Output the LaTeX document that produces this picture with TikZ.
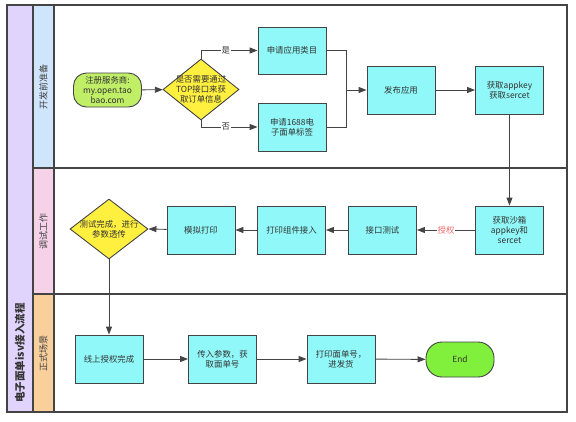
\documentclass[tikz,border=0pt]{standalone}
\usepackage{fontspec}
\newfontfamily\cjk{Noto Sans CJK SC}
\usetikzlibrary{shapes.geometric,arrows.meta,positioning}
\definecolor{boxc}{HTML}{90F8F8}
\definecolor{diac}{HTML}{FFF040}
\definecolor{startc}{HTML}{C0EE66}
\definecolor{endc}{HTML}{80F03C}
\definecolor{lanea}{HTML}{CFE5FC}
\definecolor{laneb}{HTML}{F6D2E8}
\definecolor{lanec}{HTML}{F9CF9C}
\definecolor{poolc}{HTML}{E0D4FC}
\definecolor{linec}{HTML}{444444}
\definecolor{redt}{HTML}{F36A6A}
\tikzset{
  txt/.style={font=\cjk\fontsize{8.4}{10.3}\selectfont, align=center, text=black!80},
  stepbox/.style={txt, draw=linec, line width=0.9pt, fill=boxc, minimum width=68pt, minimum height=48pt, inner sep=1pt},
  decbox/.style={shape=diamond, draw=linec, line width=0.9pt, fill=diac, inner sep=0pt},
  termbox/.style={txt, draw=linec, line width=0.9pt, rounded corners=14pt, minimum width=68pt, minimum height=34pt, inner sep=1pt},
  conn/.style={draw=linec, line width=0.9pt},
  arr/.style={conn, -{Triangle[length=8pt,width=6pt]}},
  lanelbl/.style={font=\cjk\fontsize{9}{10}\selectfont, rotate=90, text=black!75},
  frame/.style={draw=linec, line width=1.3pt},
  yn/.style={txt, fill=white, inner sep=1pt}
}
\begin{document}
\begin{tikzpicture}[x=1pt,y=-1pt]
\useasboundingbox (0,0) rectangle (576,421);
% pool and lanes
\fill[poolc] (7,5) rectangle (33,412);
\fill[lanea] (33,5) rectangle (54,168);
\fill[laneb] (33,168) rectangle (54,294);
\fill[lanec] (33,294) rectangle (54,412);
\draw[frame] (7,5) rectangle (567,412);
\draw[frame] (33,5) -- (33,412);
\draw[frame] (54,5) -- (54,412);
\draw[frame] (33,168) -- (567,168);
\draw[frame] (33,294) -- (567,294);
\node[font=\cjk\fontsize{10.5}{11}\selectfont\bfseries, rotate=90, text=black!80] (pool) at (20,353) {电子面单isv接入流程};
\node[lanelbl] (l1) at (43.5,87) {开发前准备};
\node[lanelbl] (l2) at (43.5,231) {调试工作};
\node[lanelbl] (l3) at (43.5,353) {正式场景};
% lane 1
\node[termbox, fill=startc, rounded corners=13pt] (start) at (107.5,90) {注册服务商:\\my.open.tao\\bao.com};
\node[decbox, minimum width=76pt, minimum height=61pt, label={[txt]center:是否需要通过\\TOP接口来获\\取订单信息}] (d1) at (201,89.5) {};
\node[stepbox, minimum height=47pt] (a) at (292,50.5) {申请应用类目};
\node[stepbox] (b) at (292,127) {申请1688电\\子面单标签};
\node[stepbox] (c) at (401,90) {发布应用};
\node[stepbox] (d) at (509.5,90) {获取appkey\\获取sercet};
\coordinate (jn) at (346,90);
\draw[arr] (start) -- (d1);
\draw[arr] (d1.north) |- node[yn, pos=0.72] {是} (a.west);
\draw[arr] (d1.south) |- node[yn, pos=0.72] {否} (b.west);
\draw[conn] (a.east) -| (jn);
\draw[conn] (b.east) -| (jn);
\draw[arr] (jn) -- (c.west);
\draw[arr] (c) -- (d);
% lane 2
\node[stepbox] (e) at (509.5,230) {获取沙箱\\appkey和\\sercet};
\node[stepbox] (f) at (382.5,230) {接口测试};
\node[stepbox] (g) at (291.5,230) {打印组件接入};
\node[stepbox] (h) at (201,230) {模拟打印};
\node[decbox, minimum width=78pt, minimum height=60pt, label={[txt]center:测试完成，进行\\参数透传}] (d2) at (109,229) {};
\draw[arr] (d.south) -- (e.north);
\draw[arr] (e) -- node[txt, fill=white, text=redt, inner sep=1pt] {授权} (f);
\draw[arr] (f) -- (g);
\draw[arr] (g) -- (h);
\draw[arr] (h) -- (d2.east);
% lane 3
\node[stepbox] (i) at (109,359) {线上授权完成};
\node[stepbox] (j) at (222.5,359) {传入参数，获\\取面单号};
\node[stepbox] (k) at (341,359) {打印面单号，\\进发货};
\node[termbox, fill=endc, rounded corners=16pt, minimum height=35pt] (endn) at (460,359.5) {End};
\draw[arr] (d2.south) -- (i.north);
\draw[arr] (i) -- (j);
\draw[arr] (j) -- (k);
\draw[arr] (k) -- (endn);
\end{tikzpicture}
\end{document}
